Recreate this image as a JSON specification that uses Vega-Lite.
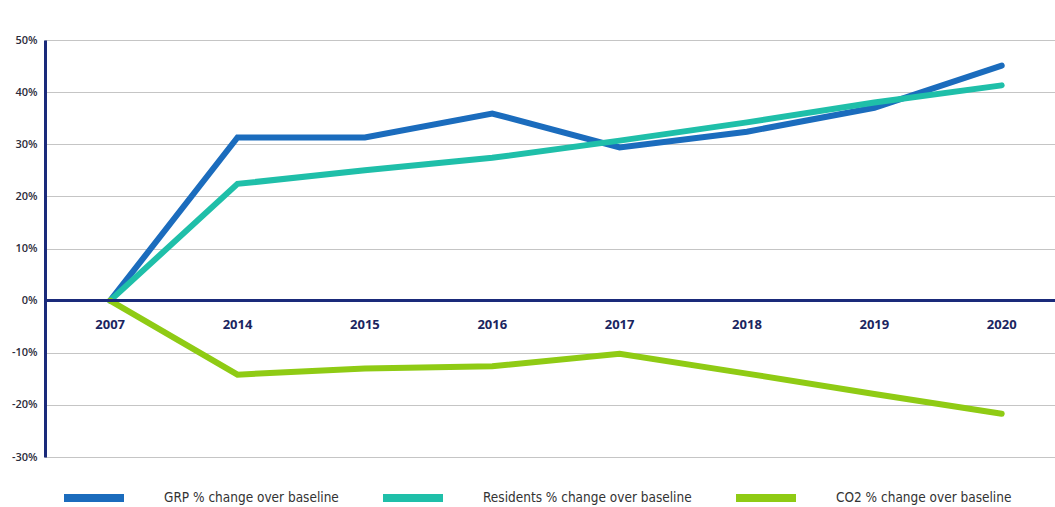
{
  "$schema": "https://vega.github.io/schema/vega-lite/v6.json",
  "width": 1010,
  "height": 417,
  "autosize": {"type": "none"},
  "padding": {"left": 45, "top": 40, "right": 0, "bottom": 50},
  "background": "white",
  "config": {
    "view": {"stroke": null},
    "font": "Open Sans"
  },
  "datasets": {
    "main": [
      {"year": "2007", "series": "GRP % change over baseline", "value": 0},
      {"year": "2014", "series": "GRP % change over baseline", "value": 31.3},
      {"year": "2015", "series": "GRP % change over baseline", "value": 31.3},
      {"year": "2016", "series": "GRP % change over baseline", "value": 35.9},
      {"year": "2017", "series": "GRP % change over baseline", "value": 29.4},
      {"year": "2018", "series": "GRP % change over baseline", "value": 32.4},
      {"year": "2019", "series": "GRP % change over baseline", "value": 37.0},
      {"year": "2020", "series": "GRP % change over baseline", "value": 45.1},
      {"year": "2007", "series": "Residents % change over baseline", "value": 0},
      {"year": "2014", "series": "Residents % change over baseline", "value": 22.4},
      {"year": "2015", "series": "Residents % change over baseline", "value": 25.0},
      {"year": "2016", "series": "Residents % change over baseline", "value": 27.4},
      {"year": "2017", "series": "Residents % change over baseline", "value": 30.7},
      {"year": "2018", "series": "Residents % change over baseline", "value": 34.2},
      {"year": "2019", "series": "Residents % change over baseline", "value": 38.0},
      {"year": "2020", "series": "Residents % change over baseline", "value": 41.3},
      {"year": "2007", "series": "CO2 % change over baseline", "value": 0},
      {"year": "2014", "series": "CO2 % change over baseline", "value": -14.2},
      {"year": "2015", "series": "CO2 % change over baseline", "value": -13.0},
      {"year": "2016", "series": "CO2 % change over baseline", "value": -12.6},
      {"year": "2017", "series": "CO2 % change over baseline", "value": -10.2},
      {"year": "2018", "series": "CO2 % change over baseline", "value": -14.0},
      {"year": "2019", "series": "CO2 % change over baseline", "value": -17.9},
      {"year": "2020", "series": "CO2 % change over baseline", "value": -21.7}
    ]
  },
  "data": {"name": "main"},
  "encoding": {
    "x": {
      "field": "year",
      "type": "ordinal",
      "scale": {"type": "point", "padding": 0.465, "align": 0.55},
      "axis": null
    }
  },
  "layer": [
    {
      "mark": {"type": "line", "strokeWidth": 6, "strokeCap": "round", "strokeJoin": "miter"},
      "encoding": {
        "y": {
          "field": "value",
          "type": "quantitative",
          "scale": {"domain": [-30, 50], "nice": false, "zero": false},
          "axis": {
            "title": null,
            "values": [-30, -20, -10, 0, 10, 20, 30, 40, 50],
            "labelExpr": "datum.value + '%'",
            "labelFontSize": 11,
            "labelFontWeight": 600,
            "labelColor": "#2b2b3a",
            "labelPadding": 8,
            "ticks": false,
            "domainColor": "#1a2a7a",
            "domainWidth": 3,
            "grid": true,
            "gridColor": "#8a8a8a",
            "gridDash": [1, 1],
            "gridWidth": 1
          }
        },
        "color": {
          "field": "series",
          "type": "nominal",
          "sort": ["GRP % change over baseline", "Residents % change over baseline", "CO2 % change over baseline"],
          "scale": {
            "domain": ["GRP % change over baseline", "Residents % change over baseline", "CO2 % change over baseline"],
            "range": ["#1b6cbd", "#1fbfa9", "#8fcb14"]
          },
          "legend": {
            "title": null,
            "orient": "none",
            "direction": "horizontal",
            "legendX": 15,
            "legendY": 424,
            "gridAlign": "none",
            "symbolType": "stroke",
            "symbolSize": 3600,
            "symbolStrokeWidth": 8,
            "labelFont": "DejaVu Sans Condensed",
            "labelFontSize": 13.5,
            "labelColor": "#333333",
            "labelOffset": 36,
            "labelLimit": 400,
            "columnPadding": 28
          }
        },
        "order": {"field": "series", "type": "nominal"}
      }
    },
    {
      "mark": {"type": "rule", "color": "#1a2a7a", "strokeWidth": 2.5},
      "encoding": {"y": {"datum": 0}, "x": null}
    },
    {
      "transform": [{"filter": "datum.series == 'GRP % change over baseline'"}],
      "mark": {"type": "text", "dy": 24, "fontSize": 13, "fontWeight": "bold", "color": "#1a2560", "font": "Open Sans"},
      "encoding": {
        "y": {"datum": 0},
        "text": {"field": "year"}
      }
    }
  ]
}
